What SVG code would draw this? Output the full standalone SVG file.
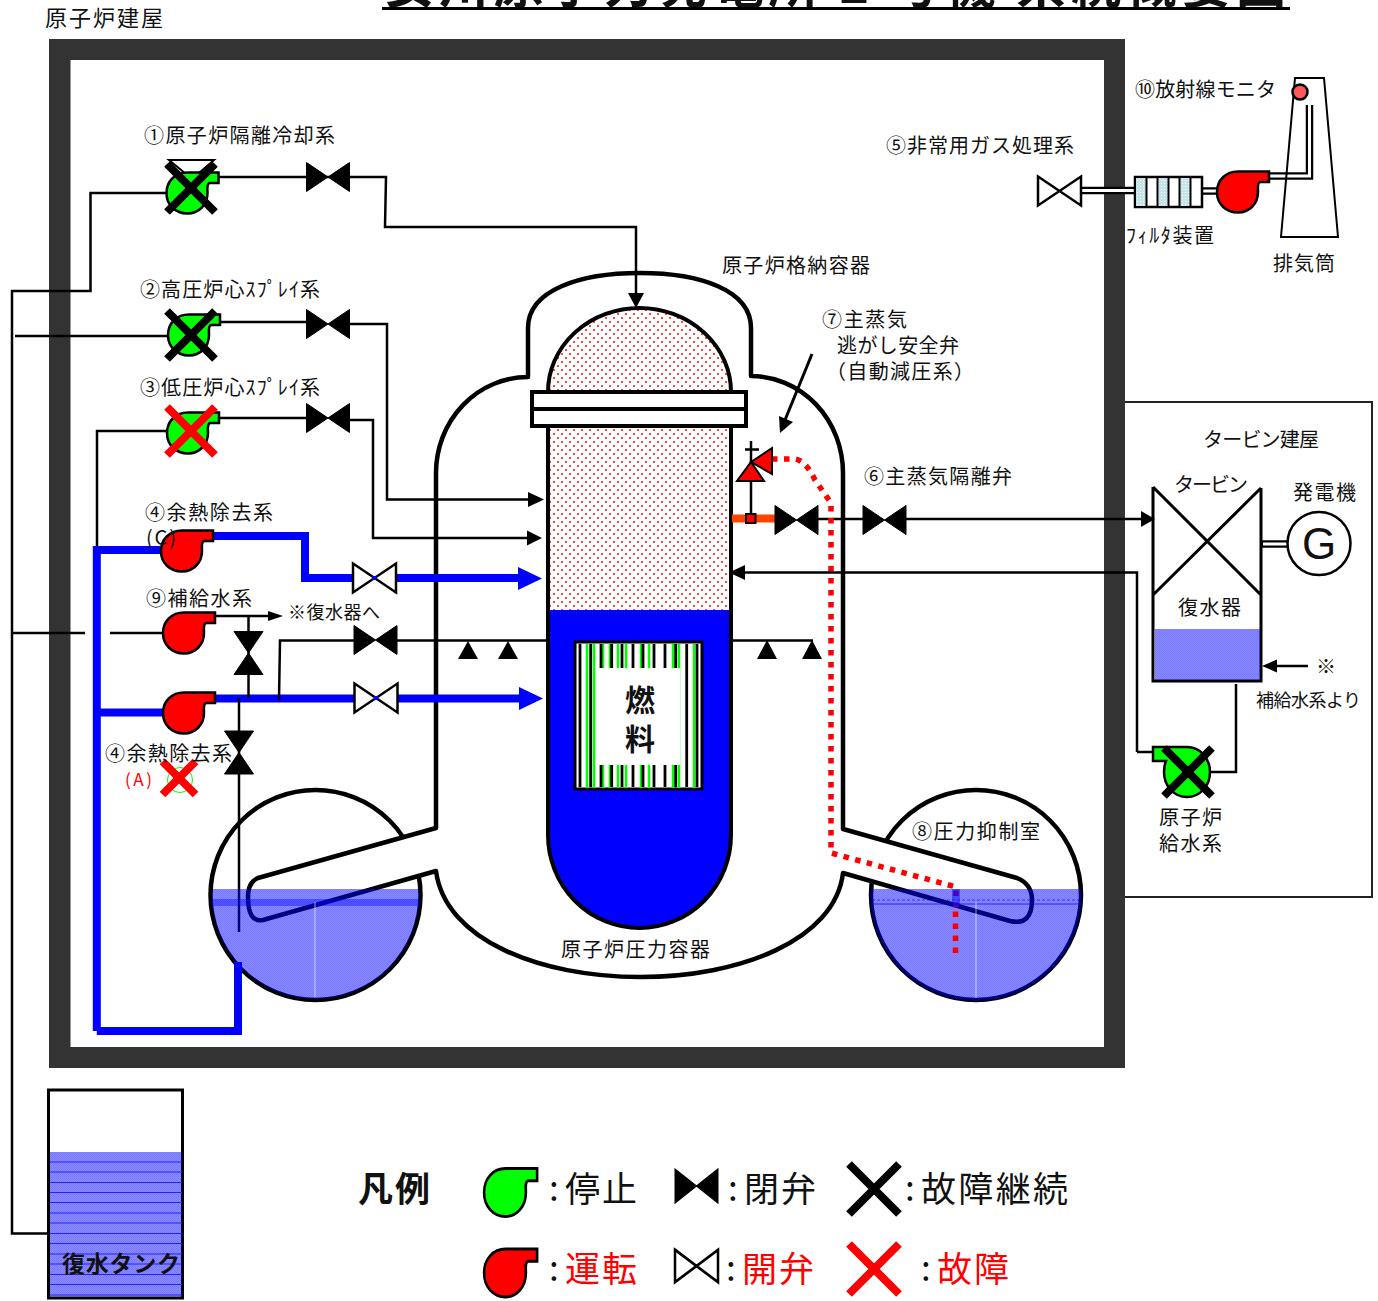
<svg xmlns="http://www.w3.org/2000/svg" width="1378" height="1301" viewBox="0 0 1378 1301">
<style>
text{font-family:"Noto Sans CJK JP","Noto Sans",sans-serif;font-size:20px;fill:#111}
.b{font-weight:700}
.r{fill:#f00}
.lg{font-size:35px}
.ln{fill:none;stroke:#000;stroke-width:2.5}
.bl{fill:none;stroke:#00f;stroke-width:8}
.pg{fill:#0f0;stroke:#000;stroke-width:2.5}
.pr{fill:#f00;stroke:#000;stroke-width:2.5}
.vc{fill:#000;stroke:#000;stroke-width:1}
.vo{fill:#fff;stroke:#000;stroke-width:2.5}
.xk{fill:none;stroke:#000;stroke-width:8}
.xr{fill:none;stroke:#f00;stroke-width:8}
.ah{fill:#000}
.ab{fill:#00f}
.rd{fill:none;stroke:#f00;stroke-width:5.5;stroke-dasharray:5.5 6.5}
</style>
<defs>
<path id="pump" d="M0,-20.5 H31 V-10 H22 C19,-9 20,-4 20,0 C20,12 11,20.5 0,20.5 C-12,20.5 -21,12 -21,0 C-21,-12 -12,-20.5 0,-20.5 Z"/>
<path id="valve" d="M-21.5,-14.5 L21.5,14.5 V-14.5 L-21.5,14.5 Z"/>
<path id="cross" d="M-24,-24 L24,24 M24,-24 L-24,24"/>
<pattern id="pink" width="8" height="8" patternUnits="userSpaceOnUse">
<rect width="8" height="8" fill="#fff"/><rect x="1" y="1" width="2" height="2" fill="#f44"/><rect x="5" y="5" width="2" height="2" fill="#f44"/>
</pattern>
<pattern id="water" width="2" height="2" patternUnits="userSpaceOnUse">
<rect width="2" height="2" fill="#00f" fill-opacity=".46"/><rect width="1" height="1" fill="#00f" fill-opacity=".12"/><rect x="1" y="1" width="1" height="1" fill="#00f" fill-opacity=".12"/>
</pattern>
<pattern id="filt" width="3" height="3" patternUnits="userSpaceOnUse">
<rect width="3" height="3" fill="#c4e4e8"/><rect width="1" height="1" fill="#fff"/>
</pattern>
</defs>

<rect width="1378" height="1301" fill="#fff"/>

<g id="title">
<text class="b" x="384" y="3" style="font-size:50px" textLength="902">女川原子力発電所 2 号機  系統概要図</text>
<rect x="382" y="7" width="908" height="3" fill="#000"/>
</g>

<g id="turbine-building"><rect x="1110" y="402" width="262" height="495" fill="#fff" stroke="#222" stroke-width="2"/></g>
<g id="reactor-building">
<path fill="#333" fill-rule="evenodd" d="M49,39 H1125 V1068 H49 Z M70.500,60 V1047 H1104 V60 Z"/>
</g>

<g id="suppression-chamber-a"><circle cx="315.500" cy="895" r="105" fill="#fff" stroke="#000" stroke-width="4.500"/></g>
<g id="suppression-chamber-b"><circle cx="976" cy="895" r="105" fill="#fff" stroke="#000" stroke-width="4.500"/></g>

<g id="containment">
<path fill="#fff" stroke="#000" stroke-width="4.500" stroke-linejoin="round" d="M436,473 A92,96 0 0 1 528,377 V328 C528,290 580,273 640,273 C700,273 751,290 751,328 V376 A92,97 0 0 1 843,473 V829 L1017,878 Q1032,884 1032,900 Q1032,926 1010,921 L843,873 C835,940 740,977 640,977 C540,977 445,940 436,871 L263,920 Q248,923 248,897 Q248,882 258,878 L436,828 Z"/>
</g>

<g id="pressure-vessel">
<path fill="url(#pink)" d="M548,392 A91.500,84 0 0 1 731,392 V835 H548 Z"/>
<path fill="#00f" d="M548,610 H731 V835 A91.500,93 0 0 1 548,835 Z"/>
<path fill="none" stroke="#000" stroke-width="4" d="M548,392 A91.500,84 0 0 1 731,392 V835 A91.500,93 0 0 1 548,835 Z"/>
<rect x="532" y="392" width="214" height="34" fill="#fff" stroke="#000" stroke-width="4"/>
<path d="M532,409 H746" stroke="#000" stroke-width="4"/>
</g>

<g id="fuel">
<rect x="575" y="642" width="127" height="147" fill="#fff" stroke="#000" stroke-width="3"/>
<path fill="none" stroke="#0f0" stroke-width="2.500" d="M587,644 V788 M594,644 V788 M603,644 V788 M610,644 V788 M618,644 V788 M626,644 V788 M641,644 V788 M649,644 V788 M673,644 V788 M679,644 V788 M694,644 V788"/>
<path fill="none" stroke="#000" stroke-width="2.800" d="M580,644 V787 M590.700,644 V787 M601,644 V787 M611.700,644 V787 M622,644 V787 M633,644 V787 M643,644 V787 M654,644 V787 M665,644 V787 M675.700,644 V787 M686.700,644 V787 M697,644 V787"/>
<rect x="598" y="668" width="82" height="97" fill="#fff"/>
<text class="b" x="625" y="711" style="font-size:30px">燃</text>
<text class="b" x="625" y="750" style="font-size:30px">料</text>
</g>

<g id="connectors">
<path class="ln" d="M167,193 H90.500 V291 H12 V1233.500 H48"/>
<path class="ln" d="M218,177 H386 L385,227 H636 V296"/><path class="ah" d="M628,293 H644 L636,308 Z"/>
<path class="ln" d="M168,336 H15"/>
<path class="ln" d="M220,322 H306 M350,324 H387 V499.500 H530"/><path class="ah" d="M528,492 L544,499.500 L528,507 Z"/>
<path class="ln" d="M97,550 V431 H167"/>
<path class="ln" d="M218,418 H306 M350,420 H373 V538 H530"/><path class="ah" d="M527,530.500 L542,538 L527,545.500 Z"/>
<path class="bl" d="M96.800,1031 V550 H164 M210,536 H305 V578 H353 M396,578 H520"/><path class="ab" d="M518,567 L542,578.500 L518,590 Z"/>
<path class="bl" d="M96.800,712.500 H166 M96.800,1031 H238 V962"/>
<path class="bl" d="M212,698.500 H355 M398,698.500 H522"/><path class="ab" d="M519,687 L543,698.500 L519,710 Z"/>
<path class="ln" d="M12,633 H85 M110,633 H165"/>
<path class="ln" d="M214,616 H270"/><path class="ah" d="M268,611 L283,616 L268,621 Z"/>
<path class="ln" d="M248.500,616 V698"/>
<path class="ln" d="M279,700 L280,640.500 H354 M397,640.500 H547 M732,640.500 H813"/>
<path class="ln" d="M239,698 V932"/>
<path class="ah" d="M468,641 L478,659 H458 Z M508,641 L518,659 H498 Z M767,640 L777,659 H757 Z M812,640 L822,659 H802 Z"/>
<path d="M732,518.500 H775" fill="none" stroke="#f40" stroke-width="8"/>
<path class="ln" d="M818,519 H863 M906,519 H1145"/><path class="ah" d="M1141,511 L1155,519 L1141,527 Z"/>
<path class="ln" d="M751,513 V441 M745,449.500 H759"/>
<path class="rd" d="M772,459 H795 Q806,461 815,480 L831,503 V853 L956,887 V907"/>
<path class="ln" d="M1137,752 V572.500 H742"/><path class="ah" d="M745,565 L729,572.500 L745,580 Z"/>
<path class="ln" d="M1153,752 H1137"/>
<path class="ln" d="M1210,772 H1236 V684"/>
<path class="ln" d="M1308,666 H1275"/><path class="ah" d="M1277,659.500 L1262,666 L1277,672.500 Z"/>
<path d="M812,354 L785,420" fill="none" stroke="#000" stroke-width="3"/><path class="ah" d="M780,433 L779,416 L793,422 Z"/>
<path d="M1080,190.500 H1135 M1202,191 H1217 M1268,176 H1309.500 V105 M1261,544 H1288" fill="none" stroke="#000" stroke-width="7.500"/>
<path d="M1080,190.500 H1135 M1202,191 H1217 M1266,176 H1309.500 V105 M1263,544 H1288" fill="none" stroke="#fff" stroke-width="3"/>
</g>

<g id="suppression-water-a">
<path fill="url(#water)" d="M212.200,889 H418.800 A103.500,103.500 0 1 1 212.200,889 Z"/>
<rect x="211.500" y="899" width="208" height="7" fill="#00f" fill-opacity=".4"/>
<path d="M315,902 V997" stroke="#fff" stroke-opacity=".6"/>
</g>
<g id="suppression-water-b">
<path fill="url(#water)" d="M870.700,889 H1081.300 A105.500,105.500 0 1 1 870.700,889 Z"/>
<path d="M872,900 H1081" stroke="#00f" stroke-opacity=".6" stroke-dasharray="3 2"/>
<path d="M872,904 H1081" stroke="#00f" stroke-opacity=".7"/>
<rect x="952" y="889" width="8" height="17" fill="#00f" fill-opacity=".45"/>
<path d="M976,902 V998" stroke="#fff" stroke-opacity=".6"/>
<path class="rd" d="M955.500,911.500 V955"/>
</g>

<g id="pump-1">
<path d="M169,160 H214 L192,179 Z" fill="#fff" stroke="#000" stroke-width="2"/>
<use href="#pump" transform="translate(187.500,193)" class="pg"/><use href="#cross" transform="translate(191,188)" class="xk"/>
</g>
<g id="valve-1"><use href="#valve" transform="translate(328,177)" class="vc"/></g>
<g id="pump-2"><use href="#pump" transform="translate(189,335)" class="pg"/><use href="#cross" transform="translate(191,335)" class="xk"/></g>
<g id="valve-2"><use href="#valve" transform="translate(328,324)" class="vc"/></g>
<g id="pump-3"><use href="#pump" transform="translate(188,433)" class="pg"/><use href="#cross" transform="translate(191,431)" class="xr"/></g>
<g id="valve-3"><use href="#valve" transform="translate(328,418)" class="vc"/></g>
<g id="pump-4c"><use href="#pump" transform="translate(182,551)" class="pr"/><text x="146" y="545" textLength="30">(C)</text></g>
<g id="valve-4c"><use href="#valve" transform="translate(374.500,578)" class="vo"/><rect x="372.500" y="576" width="4" height="4" fill="#00f"/></g>
<g id="pump-9"><use href="#pump" transform="translate(184,633)" class="pr"/></g>
<g id="valve-9a"><use href="#valve" transform="translate(248.500,653) rotate(90)" class="vc"/></g>
<g id="valve-9b"><use href="#valve" transform="translate(375.500,640)" class="vc"/></g>
<g id="pump-4b"><use href="#pump" transform="translate(184,713)" class="pr"/></g>
<g id="valve-4b"><use href="#valve" transform="translate(376,698)" class="vo"/><rect x="374" y="696" width="4" height="4" fill="#00f"/></g>
<g id="valve-4a"><use href="#valve" transform="translate(239,752.500) rotate(90)" class="vc"/></g>
<g id="pump-4a">
<circle cx="180" cy="780" r="12.500" fill="#fff" stroke="#0f0" stroke-width="1"/>
<path d="M-16.500,-16.500 L16.500,16.500 M16.500,-16.500 L-16.500,16.500" transform="translate(179,778)" class="xr"/>
</g>
<g id="srv">
<path d="M737,481 H764 L751,462 Z" fill="#f00" stroke="#000" stroke-width="2"/>
<path d="M751,462 L772,448 V474 Z" fill="#f00" stroke="#000" stroke-width="2"/>
<rect x="746" y="514" width="9.500" height="9" fill="#f00" stroke="#000" stroke-width="2"/>
</g>
<g id="valve-6a"><use href="#valve" transform="translate(796.500,520)" class="vc"/></g>
<g id="valve-6b"><use href="#valve" transform="translate(884.500,520)" class="vc"/></g>

<g id="sgts-valve"><use href="#valve" transform="translate(1059.500,191)" class="vo"/></g>
<g id="filter">
<rect x="1135" y="177" width="67" height="30" fill="#fff" stroke="#000" stroke-width="2.500"/>
<path d="M1136,178 H1146.500 V206 H1136 Z M1158,178 H1168.500 V206 H1158 Z M1180,178 H1190.500 V206 H1180 Z" fill="url(#filt)"/>
<path d="M1146.500,177 V207 M1157.500,177 V207 M1168.500,177 V207 M1179.500,177 V207 M1190.500,177 V207" stroke="#000" stroke-width="2"/>
</g>
<g id="sgts-pump"><use href="#pump" transform="translate(1238,192)" class="pr"/></g>
<g id="stack">
<path d="M1295,78 H1324 L1338,237 H1281 Z" fill="none" stroke="#000" stroke-width="2"/>
<circle cx="1300" cy="92" r="7.500" fill="#ff5a5a" stroke="#000" stroke-width="2.500"/>
</g>

<g id="turbine">
<path d="M1153,487 V681 H1261 V488 M1153,487 L1261,595 M1261,488 L1153,595" fill="none" stroke="#000" stroke-width="3"/>
<rect x="1155" y="629" width="105" height="51" fill="url(#water)"/>
</g>
<g id="generator">
<circle cx="1319" cy="543.500" r="31.500" fill="#fff" stroke="#000" stroke-width="2.500"/>
<text x="1319" y="559" text-anchor="middle" style="font-family:'Liberation Sans',sans-serif;font-size:44px">G</text>
</g>
<g id="feedwater-pump">
<path d="M1187,747 H1153 V761 H1166 C1164,765 1164,768 1164,772 C1164,786 1174,797 1187,797 C1200,797 1210,786 1210,772 C1210,758 1200,747 1187,747 Z" class="pg"/>
<use href="#cross" transform="translate(1188,772)" class="xk"/>
</g>

<g id="condensate-tank">
<rect x="48.500" y="1090" width="134" height="208" fill="#fff" stroke="#000" stroke-width="3"/>
<rect x="50" y="1152" width="131.500" height="144.500" fill="url(#water)"/>
<path fill="none" stroke="#22f" stroke-width="1" d="M50,1162 H182 M50,1172 H182 M50,1182.500 H182 M50,1192.500 H182 M50,1202.500 H182 M50,1213 H182 M50,1223 H182 M50,1233.500 H182 M50,1243.500 H182 M50,1254 H182 M50,1264 H182 M50,1274.500 H182 M50,1284.500 H182 M50,1295 H182"/>
<text class="b" x="62" y="1272" style="font-size:23px" textLength="118">復水タンク</text>
</g>

<g id="labels">
<text x="45" y="26" style="font-size:22px" textLength="118">原子炉建屋</text>
<text x="144" y="143" textLength="191">①原子炉隔離冷却系</text>
<text x="140" y="297" textLength="180">②高圧炉心ｽﾌﾟﾚｲ系</text>
<text x="140" y="395" textLength="180">③低圧炉心ｽﾌﾟﾚｲ系</text>
<text x="145" y="520" textLength="128">④余熱除去系</text>
<text x="146" y="606" textLength="106">⑨補給水系</text>
<text x="288" y="619" style="font-size:18px" textLength="92">※復水器へ</text>
<text x="105" y="761" textLength="127">④余熱除去系</text>
<text class="r" x="125" y="786" style="font-size:17px" textLength="27">(A)</text>
<text x="722" y="273" textLength="148">原子炉格納容器</text>
<text x="886" y="153" textLength="188">⑤非常用ガス処理系</text>
<text x="1135" y="97" textLength="141">⑩放射線モニタ</text>
<text x="1126" y="243" textLength="88">ﾌｨﾙﾀ装置</text>
<text x="1273" y="271" textLength="62">排気筒</text>
<text x="822" y="327" textLength="85">⑦主蒸気</text>
<text x="837" y="353" textLength="122">逃がし安全弁</text>
<text x="826" y="379" textLength="148">（自動減圧系）</text>
<text x="864" y="484" textLength="148">⑥主蒸気隔離弁</text>
<text x="1203" y="447" textLength="116">タービン建屋</text>
<text x="1174" y="492" textLength="74">タービン</text>
<text x="1293" y="500" textLength="63">発電機</text>
<text x="1178" y="615" textLength="63">復水器</text>
<text x="1316" y="674">※</text>
<text x="1256" y="707" style="font-size:18px" textLength="105">補給水系より</text>
<text x="1159" y="825" textLength="63">原子炉</text>
<text x="1159" y="851" textLength="63">給水系</text>
<text x="561" y="957" textLength="149">原子炉圧力容器</text>
<text x="912" y="839" textLength="128">⑧圧力抑制室</text>
</g>

<g id="legend">
<text class="b lg" x="358" y="1202" textLength="72">凡例</text>
<use href="#pump" transform="translate(505.500,1192.500) scale(1.020,1.170)" class="pg"/>
<use href="#pump" transform="translate(505.500,1273) scale(1.020,1.170)" class="pr"/>
<use href="#valve" transform="translate(696.500,1186) scale(1,1.180)" class="vc"/>
<use href="#valve" transform="translate(696.500,1266) scale(1,1.120)" class="vo"/>
<path d="M-25,-25 L25,25 M25,-25 L-25,25" transform="translate(874,1189)" class="xk"/>
<path d="M-25,-25 L25,25 M25,-25 L-25,25" transform="translate(874,1269)" class="xr"/>
<text class="lg" x="549" y="1201">:</text><text class="lg" x="565" y="1202" textLength="72">停止</text>
<text class="lg" x="728" y="1201">:</text><text class="lg" x="744" y="1202" textLength="72">閉弁</text>
<text class="lg" x="905" y="1201">:</text><text class="lg" x="921" y="1202" textLength="147">故障継続</text>
<text class="lg" x="549" y="1281">:</text><text class="lg r" x="565" y="1282" textLength="72">運転</text>
<text class="lg" x="726" y="1281">:</text><text class="lg r" x="742" y="1282" textLength="72">開弁</text>
<text class="lg" x="921" y="1281">:</text><text class="lg r" x="937" y="1282" textLength="72">故障</text>
</g>
</svg>
